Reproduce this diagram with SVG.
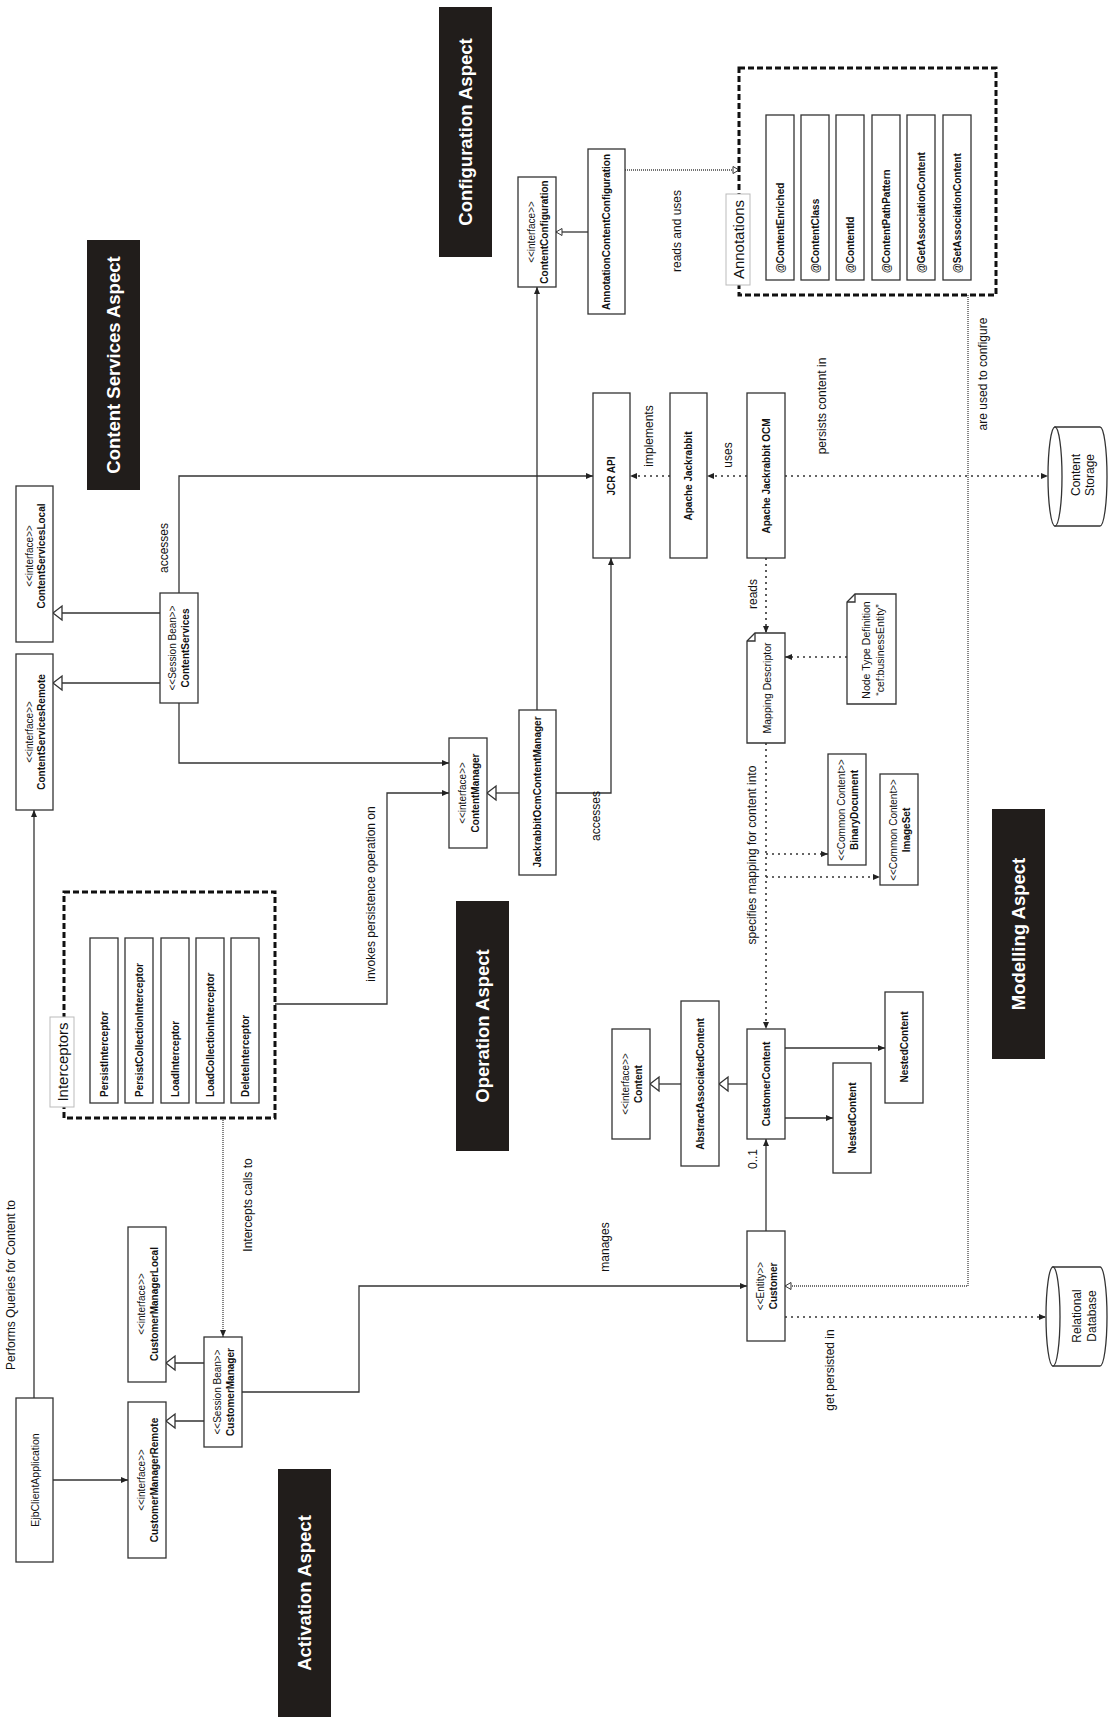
<svg xmlns="http://www.w3.org/2000/svg" width="1108" height="1717" viewBox="0 0 1108 1717">
<style>
text{font-family:"Liberation Sans",Arial,sans-serif;fill:#111;dominant-baseline:central;text-anchor:middle}
.n{font-size:10px;font-weight:bold}
.s{font-size:10px}
.r{font-size:10.5px}
.l{font-size:12px}
.t{font-size:15px}
.a{font-size:18.5px;font-weight:bold;fill:#fff}
.b{font-weight:bold}
.st{text-anchor:start}
.box{fill:#fff;stroke:#333;stroke-width:1.3}
.ln{fill:none;stroke:#333;stroke-width:1.3}
.dot{fill:none;stroke:#333;stroke-width:1.6;stroke-dasharray:2 4}
.fine{fill:none;stroke:#444;stroke-width:1.3;stroke-dasharray:1 1}
.grp{fill:none;stroke:#111;stroke-width:3;stroke-dasharray:6 3}
.tag{fill:#fff;stroke:#bbb;stroke-width:1}
.aspect{fill:#211d1b}
</style>
<defs>
<marker id="arr" markerUnits="userSpaceOnUse" markerWidth="8" markerHeight="8" refX="7" refY="3" orient="auto" overflow="visible"><path d="M0,0 L7,3 L0,6 Z" fill="#222"/></marker>
<marker id="gen" markerUnits="userSpaceOnUse" markerWidth="10" markerHeight="15" refX="9" refY="7" orient="auto" overflow="visible"><path d="M0,0 L9,7 L0,14 Z" fill="#fff" stroke="#333" stroke-width="1.3"/></marker>
<marker id="genS" markerUnits="userSpaceOnUse" markerWidth="7" markerHeight="8" refX="6" refY="3.5" orient="auto" overflow="visible"><path d="M0,0 L6,3.5 L0,7 Z" fill="#fff" stroke="#333" stroke-width="1"/></marker>
</defs>
<rect width="1108" height="1717" fill="#fff"/>

<!-- aspect banners -->
<g id="aspects">
<rect class="aspect" x="87" y="240" width="53" height="250"/>
<text class="a" transform="translate(113.5,365) rotate(-90)">Content Services Aspect</text>
<rect class="aspect" x="439" y="7" width="53" height="250"/>
<text class="a" transform="translate(465.5,132) rotate(-90)">Configuration Aspect</text>
<rect class="aspect" x="456" y="901" width="53" height="250"/>
<text class="a" transform="translate(482.5,1026) rotate(-90)">Operation Aspect</text>
<rect class="aspect" x="992" y="809" width="53" height="250"/>
<text class="a" transform="translate(1018.5,934) rotate(-90)">Modelling Aspect</text>
<rect class="aspect" x="278" y="1469" width="53" height="248"/>
<text class="a" transform="translate(304.5,1593) rotate(-90)">Activation Aspect</text>
</g>

<!-- connectors -->
<g id="connectors">
<path class="ln" d="M34,1398 V810" marker-end="url(#arr)"/>
<path class="ln" d="M53,1480 H128" marker-end="url(#arr)"/>
<path class="ln" d="M204,1363 H166" marker-end="url(#gen)"/>
<path class="ln" d="M204,1421 H166" marker-end="url(#gen)"/>
<path class="ln" d="M242,1392 H359 V1286 H747" marker-end="url(#arr)"/>
<path class="fine" d="M223,1118 V1337" marker-end="url(#arr)"/>
<path class="ln" d="M275,1004 H387 V793 H449" marker-end="url(#arr)"/>
<path class="ln" d="M179,703 V763 H449" marker-end="url(#arr)"/>
<path class="ln" d="M179,593 V476 H593" marker-end="url(#arr)"/>
<path class="ln" d="M160,613 H53" marker-end="url(#gen)"/>
<path class="ln" d="M160,683 H53" marker-end="url(#gen)"/>
<path class="ln" d="M519,793 H487" marker-end="url(#gen)"/>
<path class="ln" d="M556,793 H611 V558" marker-end="url(#arr)"/>
<path class="ln" d="M537,710 V287" marker-end="url(#arr)"/>
<path class="ln" d="M588,232 H556" marker-end="url(#genS)"/>
<path class="fine" d="M625,170 H739" marker-end="url(#genS)"/>
<path class="dot" d="M670,476 H630" marker-end="url(#arr)"/>
<path class="dot" d="M747,476 H707" marker-end="url(#arr)"/>
<path class="dot" d="M785,476 H1048" marker-end="url(#arr)"/>
<path class="dot" d="M766,558 V633" marker-end="url(#arr)"/>
<path class="dot" d="M847,657 H785" marker-end="url(#arr)"/>
<path class="dot" d="M766,743 V1029" marker-end="url(#arr)"/>
<path class="dot" d="M766,854 H828" marker-end="url(#arr)"/>
<path class="dot" d="M766,877 H880" marker-end="url(#arr)"/>
<path class="ln" d="M747,1084 H719" marker-end="url(#gen)"/>
<path class="ln" d="M681,1084 H650" marker-end="url(#gen)"/>
<path class="ln" d="M785,1048 H885" marker-end="url(#arr)"/>
<path class="ln" d="M785,1118 H833" marker-end="url(#arr)"/>
<path class="ln" d="M766,1231 V1139" marker-end="url(#arr)"/>
<path class="dot" d="M785,1317 H1046" marker-end="url(#arr)"/>
<path class="fine" d="M968,295 V1286 H785" marker-end="url(#genS)"/>

<text class="l" transform="translate(11,1285) rotate(-90)">Performs Queries for Content to</text>
<text class="l" transform="translate(605,1247) rotate(-90)">manages</text>
<text class="l" transform="translate(248,1205) rotate(-90)">Intercepts calls to</text>
<text class="l" transform="translate(371,894) rotate(-90)">invokes persistence operation on</text>
<text class="l" transform="translate(164,548) rotate(-90)">accesses</text>
<text class="l" transform="translate(596,816) rotate(-90)">accesses</text>
<text class="l" transform="translate(677,231) rotate(-90)">reads and uses</text>
<text class="l" transform="translate(649,436) rotate(-90)">implements</text>
<text class="l" transform="translate(728,455) rotate(-90)">uses</text>
<text class="l" transform="translate(822,406) rotate(-90)">persists content in</text>
<text class="l" transform="translate(753,594) rotate(-90)">reads</text>
<text class="l" transform="translate(752,855) rotate(-90)">specifies mapping for content into</text>
<text class="l" transform="translate(753,1159) rotate(-90)">0..1</text>
<text class="l" transform="translate(830,1370) rotate(-90)">get persisted in</text>
<text class="l" transform="translate(983,374) rotate(-90)">are used to configure</text>
</g>

<!-- activation -->
<g id="ejbClientApplication">
<rect class="box" x="16" y="1398" width="37" height="164"/>
<text class="r" transform="translate(34.5,1480) rotate(-90)">EjbClientApplication</text>
</g>
<g id="customerManagerRemote">
<rect class="box" x="128" y="1402" width="38" height="156"/>
<text class="s" transform="translate(147,1480) rotate(-90)"><tspan x="0" y="-6.5">&lt;&lt;interface&gt;&gt;</tspan><tspan class="b" x="0" y="6.5">CustomerManagerRemote</tspan></text>
</g>
<g id="customerManagerLocal">
<rect class="box" x="128" y="1227" width="38" height="155"/>
<text class="s" transform="translate(147,1304) rotate(-90)"><tspan x="0" y="-6.5">&lt;&lt;interface&gt;&gt;</tspan><tspan class="b" x="0" y="6.5">CustomerManagerLocal</tspan></text>
</g>
<g id="customerManager">
<rect class="box" x="204" y="1337" width="38" height="110"/>
<text class="s" transform="translate(223,1392) rotate(-90)"><tspan x="0" y="-6.5">&lt;&lt;Session Bean&gt;&gt;</tspan><tspan class="b" x="0" y="6.5">CustomerManager</tspan></text>
</g>

<!-- interceptors -->
<g id="interceptors">
<rect class="grp" x="64" y="892" width="211" height="226"/>
<rect class="tag" x="50" y="1017" width="24" height="90"/>
<text class="t" transform="translate(62,1062) rotate(-90)">Interceptors</text>
<rect class="box" x="90" y="938" width="28" height="165"/>
<text class="n st" transform="translate(104,1097) rotate(-90)">PersistInterceptor</text>
<rect class="box" x="125" y="938" width="28" height="165"/>
<text class="n st" transform="translate(139,1097) rotate(-90)">PersistCollectionInterceptor</text>
<rect class="box" x="161" y="938" width="28" height="165"/>
<text class="n st" transform="translate(175,1097) rotate(-90)">LoadInterceptor</text>
<rect class="box" x="196" y="938" width="28" height="165"/>
<text class="n st" transform="translate(210,1097) rotate(-90)">LoadCollectionInterceptor</text>
<rect class="box" x="231" y="938" width="28" height="165"/>
<text class="n st" transform="translate(245,1097) rotate(-90)">DeleteInterceptor</text>
</g>

<!-- content services -->
<g id="contentServicesRemote">
<rect class="box" x="16" y="654" width="37" height="156"/>
<text class="s" transform="translate(34.5,732) rotate(-90)"><tspan x="0" y="-6">&lt;&lt;interface&gt;&gt;</tspan><tspan class="b" x="0" y="6.5">ContentServicesRemote</tspan></text>
</g>
<g id="contentServicesLocal">
<rect class="box" x="16" y="486" width="37" height="156"/>
<text class="s" transform="translate(34.5,556) rotate(-90)"><tspan x="0" y="-6">&lt;&lt;interface&gt;&gt;</tspan><tspan class="b" x="0" y="6.5">ContentServicesLocal</tspan></text>
</g>
<g id="contentServices">
<rect class="box" x="160" y="593" width="38" height="110"/>
<text class="s" transform="translate(179,648) rotate(-90)"><tspan x="0" y="-7">&lt;&lt;Session Bean&gt;&gt;</tspan><tspan class="b" x="0" y="6">ContentServices</tspan></text>
</g>

<!-- operation -->
<g id="contentManager">
<rect class="box" x="449" y="738" width="38" height="110"/>
<text class="s" transform="translate(468,793) rotate(-90)"><tspan x="0" y="-6.5">&lt;&lt;interface&gt;&gt;</tspan><tspan class="b" x="0" y="6.5">ContentManager</tspan></text>
</g>
<g id="jackrabbitOcmContentManager">
<rect class="box" x="519" y="710" width="37" height="165"/>
<text class="n" transform="translate(537.5,792) rotate(-90)">JackrabbitOcmContentManager</text>
</g>
<g id="jcrApi">
<rect class="box" x="593" y="393" width="37" height="165"/>
<text class="n" transform="translate(611.5,476) rotate(-90)">JCR API</text>
</g>
<g id="apacheJackrabbit">
<rect class="box" x="670" y="393" width="37" height="165"/>
<text class="n" transform="translate(688.5,476) rotate(-90)">Apache Jackrabbit</text>
</g>
<g id="apacheJackrabbitOcm">
<rect class="box" x="747" y="393" width="38" height="165"/>
<text class="n" transform="translate(766,476) rotate(-90)">Apache Jackrabbit OCM</text>
</g>

<!-- configuration -->
<g id="contentConfiguration">
<rect class="box" x="518" y="177" width="38" height="110"/>
<text class="s" transform="translate(537,232) rotate(-90)"><tspan x="0" y="-6.5">&lt;&lt;interface&gt;&gt;</tspan><tspan class="b" x="0" y="6.5">ContentConfiguration</tspan></text>
</g>
<g id="annotationContentConfiguration">
<rect class="box" x="588" y="149" width="37" height="165"/>
<text class="n" transform="translate(606.5,232) rotate(-90)">AnnotationContentConfiguration</text>
</g>
<g id="annotations">
<rect class="grp" x="739" y="68" width="257" height="227"/>
<rect class="tag" x="726" y="194" width="24" height="91"/>
<text class="t" transform="translate(738,239.5) rotate(-90)">Annotations</text>
<rect class="box" x="766" y="115" width="28" height="165"/>
<text class="n st" transform="translate(780,273) rotate(-90)">@ContentEnriched</text>
<rect class="box" x="801" y="115" width="28" height="165"/>
<text class="n st" transform="translate(815,273) rotate(-90)">@ContentClass</text>
<rect class="box" x="836" y="115" width="28" height="165"/>
<text class="n st" transform="translate(850,273) rotate(-90)">@ContentId</text>
<rect class="box" x="872" y="115" width="28" height="165"/>
<text class="n st" transform="translate(886,273) rotate(-90)">@ContentPathPattern</text>
<rect class="box" x="907" y="115" width="28" height="165"/>
<text class="n st" transform="translate(921,273) rotate(-90)">@GetAssociationContent</text>
<rect class="box" x="943" y="115" width="28" height="165"/>
<text class="n st" transform="translate(957,273) rotate(-90)">@SetAssociationContent</text>
</g>

<!-- modelling -->
<g id="mappingDescriptor">
<path class="box" d="M755,633 H785 V743 H747 V641 Z"/>
<path class="ln" d="M747,641 H755 V633"/>
<text class="r" transform="translate(767,688) rotate(-90)">Mapping Descriptor</text>
</g>
<g id="nodeTypeDefinition">
<path class="box" d="M855,594 H896 V704 H847 V602 Z"/>
<path class="ln" d="M847,602 H855 V594"/>
<text class="r" transform="translate(873,650) rotate(-90)"><tspan x="0" y="-7">Node Type Definition</tspan><tspan x="0" y="7">“cef:businessEntity”</tspan></text>
</g>
<g id="binaryDocument">
<rect class="box" x="828" y="754" width="38" height="111"/>
<text class="s" transform="translate(847,810) rotate(-90)"><tspan x="0" y="-6.5">&lt;&lt;Common Content&gt;&gt;</tspan><tspan class="b" x="0" y="6.5">BinaryDocument</tspan></text>
</g>
<g id="imageSet">
<rect class="box" x="880" y="774" width="38" height="111"/>
<text class="s" transform="translate(899,830) rotate(-90)"><tspan x="0" y="-6.5">&lt;&lt;Common Content&gt;&gt;</tspan><tspan class="b" x="0" y="6.5">ImageSet</tspan></text>
</g>
<g id="content">
<rect class="box" x="612" y="1029" width="38" height="110"/>
<text class="s" transform="translate(631,1084) rotate(-90)"><tspan x="0" y="-6.5">&lt;&lt;interface&gt;&gt;</tspan><tspan class="b" x="0" y="6.5">Content</tspan></text>
</g>
<g id="abstractAssociatedContent">
<rect class="box" x="681" y="1001" width="38" height="165"/>
<text class="n" transform="translate(700,1084) rotate(-90)">AbstractAssociatedContent</text>
</g>
<g id="customerContent">
<rect class="box" x="747" y="1029" width="38" height="110"/>
<text class="n" transform="translate(766,1084) rotate(-90)">CustomerContent</text>
</g>
<g id="nestedContentA">
<rect class="box" x="833" y="1063" width="38" height="110"/>
<text class="n" transform="translate(852,1118) rotate(-90)">NestedContent</text>
</g>
<g id="nestedContentB">
<rect class="box" x="885" y="992" width="38" height="111"/>
<text class="n" transform="translate(904,1047) rotate(-90)">NestedContent</text>
</g>
<g id="customer">
<rect class="box" x="747" y="1231" width="38" height="110"/>
<text class="s" transform="translate(766,1286) rotate(-90)"><tspan x="0" y="-6.5">&lt;&lt;Entity&gt;&gt;</tspan><tspan class="b" x="0" y="6.5">Customer</tspan></text>
</g>

<!-- storage -->
<g id="contentStorage">
<path class="box" d="M1055,427 H1100 A7,49.5 0 0 1 1100,526 H1055 Z"/>
<ellipse class="box" cx="1055" cy="476.5" rx="7" ry="49.5"/>
<text class="l" transform="translate(1083,475) rotate(-90)"><tspan x="0" y="-7">Content</tspan><tspan x="0" y="7">Storage</tspan></text>
</g>
<g id="relationalDatabase">
<path class="box" d="M1053,1267 H1100 A7,49.5 0 0 1 1100,1366 H1053 Z"/>
<ellipse class="box" cx="1053" cy="1316.5" rx="7" ry="49.5"/>
<text class="l" transform="translate(1084.5,1316) rotate(-90)"><tspan x="0" y="-7.5">Relational</tspan><tspan x="0" y="7.5">Database</tspan></text>
</g>
</svg>
